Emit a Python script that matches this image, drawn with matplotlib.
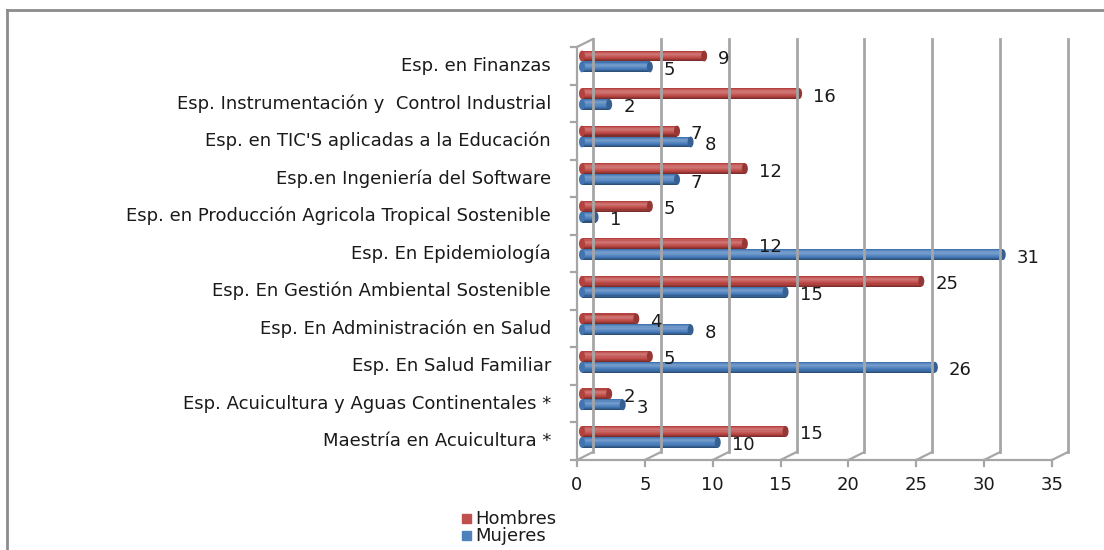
import matplotlib
matplotlib.use("Agg")
import matplotlib.pyplot as plt
import matplotlib.transforms as mtransforms
from matplotlib.patches import Ellipse, Rectangle
from matplotlib.lines import Line2D
import colorsys
import matplotlib.colors as mcolors

categories = [
    "Esp. en Finanzas",
    "Esp. Instrumentación y  Control Industrial",
    "Esp. en TIC'S aplicadas a la Educación",
    "Esp.en Ingeniería del Software",
    "Esp. en Producción Agricola Tropical Sostenible",
    "Esp. En Epidemiología",
    "Esp. En Gestión Ambiental Sostenible",
    "Esp. En Administración en Salud",
    "Esp. En Salud Familiar",
    "Esp. Acuicultura y Aguas Continentales *",
    "Maestría en Acuicultura *",
]
hombres = [9, 16, 7, 12, 5, 12, 25, 4, 5, 2, 15]
mujeres = [5, 2, 8, 7, 1, 31, 15, 8, 26, 3, 10]
x_ticks = [0, 5, 10, 15, 20, 25, 30, 35]
series_names = ["Hombres", "Mujeres"]

RED = "#C0504D"
BLUE = "#4F81BD"
GRID = "#A6A6A6"
FONT = "DejaVu Sans"
FS = 13

W, H = 1104, 550
fig = plt.figure(figsize=(W / 100, H / 100), dpi=100)

x0p, x1p = 577, 1052
ytop, ybot = 47, 460
ax = fig.add_axes([x0p / W, (H - ybot) / H, (x1p - x0p) / W, (ybot - ytop) / H])
ax.set_xlim(0, 35)
n = len(categories)
ax.set_ylim(0, n)
ax.axis("off")

DX, DY = 16, 8
back = mtransforms.offset_copy(ax.transData, fig=fig, x=DX, y=DY, units="dots")
mid = mtransforms.offset_copy(ax.transData, fig=fig, x=5, y=0, units="dots")

for xv in x_ticks:
    ax.add_line(Line2D([xv, xv], [0, n], transform=back, color=GRID, lw=2.0, clip_on=False))
    p0 = ax.transData.transform((xv, 0))
    ax.add_line(Line2D([p0[0], p0[0] + DX], [p0[1], p0[1] + DY], transform=None,
                       color=GRID, lw=1.6, clip_on=False))
    ax.add_line(Line2D([p0[0], p0[0]], [p0[1], p0[1] - 6], transform=None,
                       color=GRID, lw=1.6, clip_on=False))
    ax.text(xv, 0, str(xv), transform=mtransforms.offset_copy(ax.transData, fig=fig, x=0, y=-25, units="dots"),
            ha="center", va="center", fontsize=FS, family=FONT, color="#1a1a1a")

ax.add_line(Line2D([0, 35], [0, 0], color=GRID, lw=1.6, clip_on=False))
ax.add_line(Line2D([0, 0], [0, n], color=GRID, lw=1.6, clip_on=False))
pt = ax.transData.transform((0, n))
ax.add_line(Line2D([pt[0], pt[0] + DX], [pt[1], pt[1] + DY], transform=None,
                   color=GRID, lw=1.6, clip_on=False))
for k in range(n + 1):
    p = ax.transData.transform((0, k))
    ax.add_line(Line2D([p[0] - 6, p[0]], [p[1], p[1]], transform=None,
                       color=GRID, lw=1.6, clip_on=False))


def shade(color, f):
    r, g, b = mcolors.to_rgb(color)
    h, l, s = colorsys.rgb_to_hls(r, g, b)
    l = min(1, max(0, l * f))
    return colorsys.hls_to_rgb(h, l, s)


def cylinder(val, yc, h, color):
    nslice = 10
    prof = [0.62, 0.75, 0.88, 0.98, 1.05, 1.12, 1.18, 1.15, 1.05, 0.9]
    for i in range(nslice):
        y = yc - h / 2 + (i + 0.5) * h / nslice
        ax.barh(y, val, height=h / nslice + 0.002, left=0, color=shade(color, prof[i]),
                transform=mid, linewidth=0)
    capw = 6 / ((x1p - x0p) / 35)
    ax.add_patch(Ellipse((val, yc), capw, h, transform=mid, color=shade(color, 0.75), lw=0))
    ax.add_patch(Ellipse((0, yc), capw, h, transform=mid, color=shade(color, 0.9), lw=0))


bh = 0.29
lab_tr = mtransforms.offset_copy(ax.transData, fig=fig, x=19, y=-3, units="dots")
for i, cat in enumerate(categories):
    c = n - i - 0.5
    yr = c + 0.26
    yb = c - 0.03
    cylinder(hombres[i], yr, bh, RED)
    cylinder(mujeres[i], yb, bh, BLUE)
    ax.text(hombres[i], yr, str(hombres[i]), transform=lab_tr, ha="left", va="center",
            fontsize=FS, family=FONT, color="#1a1a1a")
    ax.text(mujeres[i], yb, str(mujeres[i]), transform=lab_tr, ha="left", va="center",
            fontsize=FS, family=FONT, color="#1a1a1a")
    ax.text(0, c, cat, transform=mtransforms.offset_copy(ax.transData, fig=fig, x=-26, y=0, units="dots"),
            ha="right", va="center", fontsize=FS, family=FONT, color="#1a1a1a")

for j, (name, col) in enumerate(zip(series_names, [RED, BLUE])):
    yy = 519 + j * 17
    fig.patches.append(Rectangle((462 / W, (H - yy - 4) / H), 9 / W, 9 / H, transform=fig.transFigure,
                                 color=col, figure=fig))
    fig.text(475 / W, (H - yy) / H, name, ha="left", va="center", fontsize=FS, family=FONT, color="#1a1a1a")

fig.add_artist(Line2D([7 / W, 1], [(H - 10) / H, (H - 10) / H], transform=fig.transFigure, color="#8c8c8c", lw=2))
fig.add_artist(Line2D([7 / W, 7 / W], [0, (H - 10) / H], transform=fig.transFigure, color="#8c8c8c", lw=2))

fig.savefig("out.png", dpi=100)
